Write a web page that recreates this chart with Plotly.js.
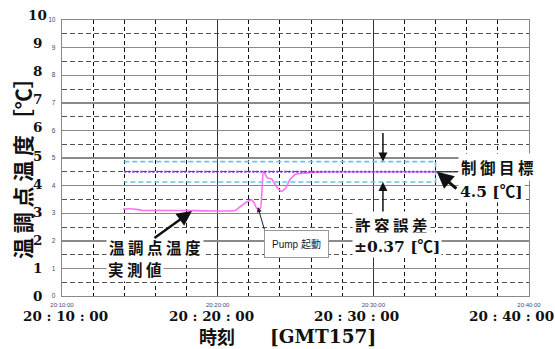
<!DOCTYPE html>
<html>
<head>
<meta charset="utf-8">
<script src="https://cdn.plot.ly/plotly-3.0.1.min.js"></script>
<style>html,body{margin:0;padding:0;background:#fff;}#chart{width:555px;height:349px;}</style>
</head>
<body>
<div id="chart"></div>
<script>
// ---- data ----
const DAY = '2024-01-01 ';
const measuredTimes = ['20:13:55','20:14:22','20:14:53','20:15:12','20:18:00','20:21:07','20:21:38','20:21:58','20:22:11','20:22:20','20:22:31','20:22:45','20:22:56','20:23:11','20:23:28','20:23:47','20:24:07','20:24:23','20:24:38','20:24:58','20:25:17','20:26:00','20:27:00','20:34:00'];
const measuredValues = [3.15,3.16,3.13,3.10,3.10,3.10,3.32,3.43,3.49,3.38,3.17,3.18,4.52,4.28,4.24,3.96,3.79,3.91,4.21,4.40,4.44,4.47,4.50,4.50];
const targetTimes = ['20:14:00','20:34:00'];
const targetValue = 4.5;
const tolerance = 0.37;
const xTickVals = ['20:10:00','20:20:00','20:30:00','20:40:00'];
const xBigLabels = ['20 : 10 : 00','20 : 20 : 00','20 : 30 : 00','20 : 40 : 00'];
const yTickVals = [0,1,2,3,4,5,6,7,8,9,10];
const pumpStart = '20:22:35';
const pumpValue = 3.22;
const measuredPointer = ['20:18:21', 3.08];
const tolPointerTime = '20:30:37';
const targetPointerTime = '20:34:05';

// ---- geometry helpers (layout only) ----
const L = 62, R = 529, T = 20, B = 296;
const P = px => (px - L) / (R - L);
const Q = py => (B - py) / (B - T);
const d = t => DAY + t;

const traces = [
  { x: measuredTimes.map(d), y: measuredValues, mode: 'lines', line: {color: '#ff70f0', width: 1.6, shape: 'spline', smoothing: 0.4}, hoverinfo: 'skip' },
  { x: [targetTimes[0], targetTimes[1], targetTimes[1], targetTimes[0]].map(d),
    y: [targetValue + tolerance, targetValue + tolerance, targetValue - tolerance, targetValue - tolerance],
    mode: 'lines', line: {color: '#66c8ee', width: 1.6, dash: '5px,3px'}, hoverinfo: 'skip' },
  { x: targetTimes.map(d), y: [targetValue, targetValue], mode: 'lines', line: {color: '#7a2cf0', width: 2, dash: '2px,2px'}, hoverinfo: 'skip' }
];

const serif = 'DejaVu Serif, Liberation Serif, serif';
const jp = 'Noto Sans CJK JP, sans-serif';
const C = '<span style="font-family:Noto Sans CJK JP">℃</span>';
const ann = [];
const xShift = [3, -6, -17, -18];
xTickVals.forEach((t, i) => ann.push({ x: d(t), xref: 'x', xanchor: 'center', y: Q(316), yref: 'paper', yanchor: 'middle', text: '<b>' + xBigLabels[i] + '</b>', showarrow: false, xshift: xShift[i], font: {family: serif, size: 13.5, color: '#111'} }));
yTickVals.forEach(v => ann.push({ x: P(37), xref: 'paper', xanchor: 'center', y: v, yref: 'y', yanchor: 'middle', yshift: v * 0.5, text: '<b>' + v + '</b>', showarrow: false, font: {family: serif, size: 13.5, color: '#111'} }));

// axis titles
ann.push({ x: P(22), xref: 'paper', xanchor: 'center', y: Q(163), yref: 'paper', yanchor: 'middle', text: '<b>温 調 点 温 度 ［℃］</b>', textangle: -90, showarrow: false, font: {family: jp, size: 21, color: '#111'} });
ann.push({ x: P(197), xref: 'paper', xanchor: 'left', y: Q(336), yref: 'paper', yanchor: 'middle', text: '<b>時刻</b>', showarrow: false, font: {family: jp, size: 18, color: '#111'} });
ann.push({ x: P(268), xref: 'paper', xanchor: 'left', y: Q(336), yref: 'paper', yanchor: 'middle', text: '<b>[GMT157]</b>', showarrow: false, font: {family: serif, size: 18.5, color: '#111'} });

// measured label
ann.push({ x: P(106), xref: 'paper', xanchor: 'left', y: Q(247), yref: 'paper', yanchor: 'middle', text: '<b>温 調 点 温 度</b>', showarrow: false, bgcolor: '#fff', borderpad: 2, font: {family: jp, size: 15.5, color: '#111'} });
ann.push({ x: P(106), xref: 'paper', xanchor: 'left', y: Q(269), yref: 'paper', yanchor: 'middle', text: '<b>実 測 値</b>', showarrow: false, bgcolor: '#fff', borderpad: 1, font: {family: jp, size: 15.5, color: '#111'} });
ann.push({ x: d(measuredPointer[0]), y: measuredPointer[1], xref: 'x', yref: 'y', text: '', showarrow: true, arrowhead: 2, arrowsize: 1.2, arrowwidth: 2.5, arrowcolor: '#111', ax: -39, ay: 28 });

// pump label
ann.push({ x: P(296), xref: 'paper', xanchor: 'center', y: Q(244), yref: 'paper', yanchor: 'middle', text: 'Pump 起動', showarrow: false, bgcolor: '#fff', bordercolor: '#999', borderwidth: 1, borderpad: 7, font: {family: 'Arial, Liberation Sans, ' + jp, size: 10, color: '#222'} });
ann.push({ x: d(pumpStart), y: pumpValue, xref: 'x', yref: 'y', text: '', showarrow: true, arrowhead: 2, arrowsize: 1, arrowwidth: 1, arrowcolor: '#222', ax: 7, ay: 24 });

// tolerance label and arrows
ann.push({ x: d(tolPointerTime), y: targetValue + tolerance, xref: 'x', yref: 'y', text: '', showarrow: true, arrowhead: 2, arrowsize: 1.2, arrowwidth: 1.5, arrowcolor: '#111', ax: 0, ay: -30 });
ann.push({ x: d(tolPointerTime), y: targetValue - tolerance, xref: 'x', yref: 'y', text: '', showarrow: true, arrowhead: 2, arrowsize: 1.2, arrowwidth: 1.5, arrowcolor: '#111', ax: 0, ay: 32 });
ann.push({ x: P(352), xref: 'paper', xanchor: 'left', y: Q(225), yref: 'paper', yanchor: 'middle', text: '<b>許 容 誤 差</b>', showarrow: false, bgcolor: '#fff', borderpad: 2, font: {family: jp, size: 15.5, color: '#111'} });
ann.push({ x: P(352), xref: 'paper', xanchor: 'left', y: Q(245), yref: 'paper', yanchor: 'middle', text: '<b>±0.37 [' + C + ']</b>', showarrow: false, bgcolor: '#fff', borderpad: 1, font: {family: serif, size: 15.5, color: '#111'} });

// target label
ann.push({ x: P(458), xref: 'paper', xanchor: 'left', y: Q(167), yref: 'paper', yanchor: 'middle', text: '<b>制 御 目 標</b>', showarrow: false, bgcolor: '#fff', borderpad: 2, font: {family: jp, size: 15.5, color: '#111'} });
ann.push({ x: P(458), xref: 'paper', xanchor: 'left', y: Q(190), yref: 'paper', yanchor: 'middle', text: '<b>4.5 [' + C + ']</b>', showarrow: false, bgcolor: '#fff', borderpad: 1, font: {family: serif, size: 15.5, color: '#111'} });
ann.push({ x: d(targetPointerTime), y: targetValue, xref: 'x', yref: 'y', text: '', showarrow: true, arrowhead: 2, arrowsize: 1.1, arrowwidth: 3, arrowcolor: '#111', ax: 21, ay: 18 });

const layout = {
  width: 555, height: 349,
  margin: {l: L, r: 555 - R, t: T, b: 349 - B},
  paper_bgcolor: '#fff', plot_bgcolor: '#fff',
  showlegend: false,
  xaxis: {
    type: 'date', range: [d('20:10:00'), d('20:40:00')],
    tickvals: xTickVals.map(d), tickformat: '%H:%M:%S',
    tickfont: {family: 'Arial, Liberation Sans, sans-serif', size: 6, color: '#3b4a7c'},
    ticks: '', ticklabelstandoff: 2,
    showgrid: true, gridcolor: '#333', gridwidth: 1,
    minor: {dtick: 120000, showgrid: true, gridcolor: '#111', gridwidth: 1, griddash: '4px,3px'},
    showline: true, linecolor: '#888', linewidth: 1.3, mirror: true, zeroline: false
  },
  yaxis: {
    range: [0, 10], tickvals: yTickVals,
    tickfont: {family: 'Arial, Liberation Sans, sans-serif', size: 6.5, color: '#3b4a7c'},
    ticks: '', ticklabelstandoff: 4,
    showgrid: true, gridcolor: '#8a8a8a', gridwidth: 1.4,
    minor: {dtick: 0.5, showgrid: true, gridcolor: '#555', gridwidth: 1, griddash: '5px,3px'},
    showline: true, linecolor: '#888', linewidth: 1.3, mirror: true, zeroline: false
  },
  shapes: [
    { type: 'line', xref: 'x', yref: 'y', x0: d(targetTimes[1]), x1: d('20:35:25'), y0: targetValue, y1: targetValue, line: {color: '#333', width: 1.3} }
  ],
  annotations: ann
};

Plotly.newPlot('chart', traces, layout, {displayModeBar: false, staticPlot: true});
</script>
</body>
</html>
